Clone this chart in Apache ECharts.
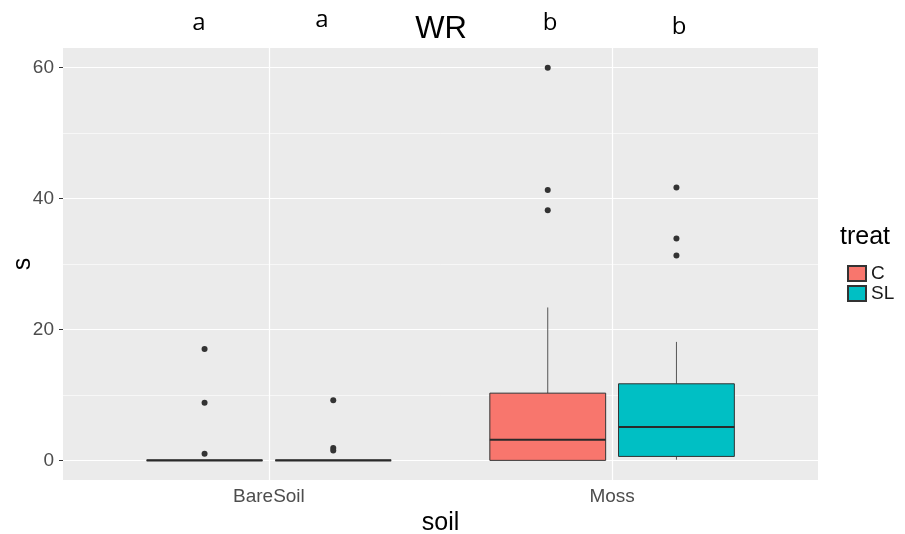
<!DOCTYPE html>
<html>
<head>
<meta charset="utf-8">
<script src="https://cdn.jsdelivr.net/npm/echarts@6/dist/echarts.min.js"></script>
<style>
  html, body { margin: 0; padding: 0; background: #fff; }
  #chart { width: 905px; height: 534px; }
</style>
</head>
<body>
<div id="chart"></div>
<script>
// categories along x and the two treatments
const soils = ['BareSoil', 'Moss'];
const treats = ['C', 'SL'];
const treatColors = ['#F8766D', '#00BFC4'];

// box stats per soil: [min, q1, median, q3, max]
const statsC = [
  [0, 0, 0, 0, 0],
  [0, 0, 3.15, 10.27, 23.36]
];
const statsSL = [
  [0, 0, 0, 0, 0],
  [0.1, 0.6, 5.1, 11.7, 18.1]
];

// outliers per soil
const outC = [
  [17.0, 8.8, 1.0],
  [60.0, 41.3, 38.2]
];
const outSL = [
  [9.2, 1.9, 1.5],
  [41.7, 33.9, 31.3]
];

// letters above groups
const groupLetters = ['a', 'a', 'b', 'b'];

const yTicks = [0, 20, 40, 60];
const yMinor = [10, 30, 50];

const dodge = 0.1875;   // ggplot dodge offset
const boxW = 0.3375;    // box width in axis units

const chart = echarts.init(document.getElementById('chart'));

function boxRenderer(offset) {
  return function (params, api) {
    const x = api.value(0) + offset;
    const pMin = api.coord([x, api.value(1)]);
    const pQ1 = api.coord([x, api.value(2)]);
    const pMed = api.coord([x, api.value(3)]);
    const pQ3 = api.coord([x, api.value(4)]);
    const pMax = api.coord([x, api.value(5)]);
    const half = api.size([boxW, 0])[0] / 2;
    const fill = api.visual('color');
    return {
      type: 'group',
      children: [
        { type: 'line', shape: { x1: pQ3[0], y1: pQ3[1], x2: pMax[0], y2: pMax[1] },
          style: { stroke: '#555', lineWidth: 1 } },
        { type: 'line', shape: { x1: pMin[0], y1: pMin[1], x2: pQ1[0], y2: pQ1[1] },
          style: { stroke: '#555', lineWidth: 1 } },
        { type: 'rect', shape: { x: pQ1[0] - half, y: pQ3[1], width: half * 2, height: pQ1[1] - pQ3[1] },
          style: { fill: fill, stroke: '#333', lineWidth: 1 } },
        { type: 'line', shape: { x1: pMed[0] - half, y1: pMed[1], x2: pMed[0] + half, y2: pMed[1] },
          style: { stroke: '#2a2a2a', lineWidth: 2.2 } }
      ]
    };
  };
}

function boxData(stats) {
  return stats.map((s, i) => [i + 1].concat(s));
}

function outlierData(outs, offset) {
  const pts = [];
  outs.forEach((list, i) => list.forEach(v => pts.push([i + 1 + offset, v])));
  return pts;
}

const white = '#FFFFFF';
const gridLines = [];
yTicks.forEach(v => gridLines.push({ yAxis: v, lineStyle: { color: white, width: 1.2, type: 'solid' } }));
yMinor.forEach(v => gridLines.push({ yAxis: v, lineStyle: { color: white, width: 0.6, type: 'solid' } }));
soils.forEach((s, i) => gridLines.push({ xAxis: i + 1, lineStyle: { color: white, width: 1.2, type: 'solid' } }));

const letterPos = [[199, 28], [322, 25], [550, 28], [679, 32]];

const option = {
  animation: false,
  backgroundColor: '#FFFFFF',
  grid: {
    left: 63, right: 87, top: 48, bottom: 54,
    outerBoundsMode: 'none',
    containLabel: false,
    show: true, backgroundColor: '#EBEBEB', borderWidth: 0
  },
  xAxis: {
    type: 'value',
    min: 0.4,
    max: 2.6,
    axisLine: { show: false },
    splitLine: { show: false },
    axisTick: { show: true, length: 4, lineStyle: { color: '#333' }, customValues: [1, 2] },
    axisLabel: {
      customValues: [1, 2],
      formatter: v => soils[Math.round(v) - 1],
      fontSize: 19, color: '#4D4D4D', margin: 7,
      fontFamily: 'Liberation Sans'
    },
    name: 'soil',
    nameLocation: 'middle',
    nameGap: 31,
    nameMoveOverlap: false,
    nameTextStyle: { fontSize: 25, color: '#000', fontFamily: 'Liberation Sans' }
  },
  yAxis: {
    type: 'value',
    min: -3,
    max: 63,
    axisLine: { show: false },
    splitLine: { show: false },
    axisTick: { show: true, length: 4, lineStyle: { color: '#333' }, customValues: yTicks },
    axisLabel: {
      customValues: yTicks,
      fontSize: 19, color: '#4D4D4D', margin: 9,
      fontFamily: 'Liberation Sans'
    },
    name: 's',
    nameLocation: 'middle',
    nameGap: 27,
    nameMoveOverlap: false,
    nameRotate: 90,
    nameTextStyle: { fontSize: 25, color: '#000', fontFamily: 'Liberation Sans' }
  },
  legend: {
    orient: 'vertical',
    left: 842,
    top: 259,
    itemWidth: 18,
    itemHeight: 15,
    itemGap: 1,
    icon: 'rect',
    data: treats,
    textStyle: { fontSize: 19, color: '#1A1A1A', fontFamily: 'Liberation Sans' }
  },
  graphic: [
    { type: 'text', left: 840, top: 225,
      style: { text: 'treat', fontSize: 25, fill: '#000', fontFamily: 'Liberation Sans' } },
    { type: 'text', x: 441, y: 45,
      style: { text: 'WR', fontSize: 31, fill: '#000', fontFamily: 'Liberation Sans',
               textAlign: 'center', textVerticalAlign: 'bottom' } }
  ].concat(groupLetters.map((t, i) => ({
    type: 'text', x: letterPos[i][0], y: letterPos[i][1] + 7,
    style: { text: t, fontSize: 24, fill: '#000', fontFamily: 'Open Sans',
             textAlign: 'center', textVerticalAlign: 'bottom' }
  }))),
  series: [
    {
      type: 'scatter',
      name: 'grid',
      data: [],
      z: 1,
      silent: true,
      markLine: {
        silent: true,
        symbol: 'none',
        animation: false,
        z: 1,
        label: { show: false },
        data: gridLines
      }
    },
    {
      type: 'custom',
      name: treats[0],
      z: 3,
      itemStyle: { color: treatColors[0], borderColor: '#333', borderWidth: 0.8 },
      renderItem: boxRenderer(-dodge),
      encode: { x: 0, y: [1, 2, 3, 4, 5] },
      data: boxData(statsC)
    },
    {
      type: 'custom',
      name: treats[1],
      z: 3,
      itemStyle: { color: treatColors[1], borderColor: '#333', borderWidth: 0.8 },
      renderItem: boxRenderer(dodge),
      encode: { x: 0, y: [1, 2, 3, 4, 5] },
      data: boxData(statsSL)
    },
    {
      type: 'scatter',
      name: 'outC',
      z: 4,
      symbolSize: 6,
      itemStyle: { color: '#333', opacity: 1 },
      data: outlierData(outC, -dodge)
    },
    {
      type: 'scatter',
      name: 'outSL',
      z: 4,
      symbolSize: 6,
      itemStyle: { color: '#333', opacity: 1 },
      data: outlierData(outSL, dodge)
    }
  ]
};

chart.setOption(option);
</script>
</body>
</html>
